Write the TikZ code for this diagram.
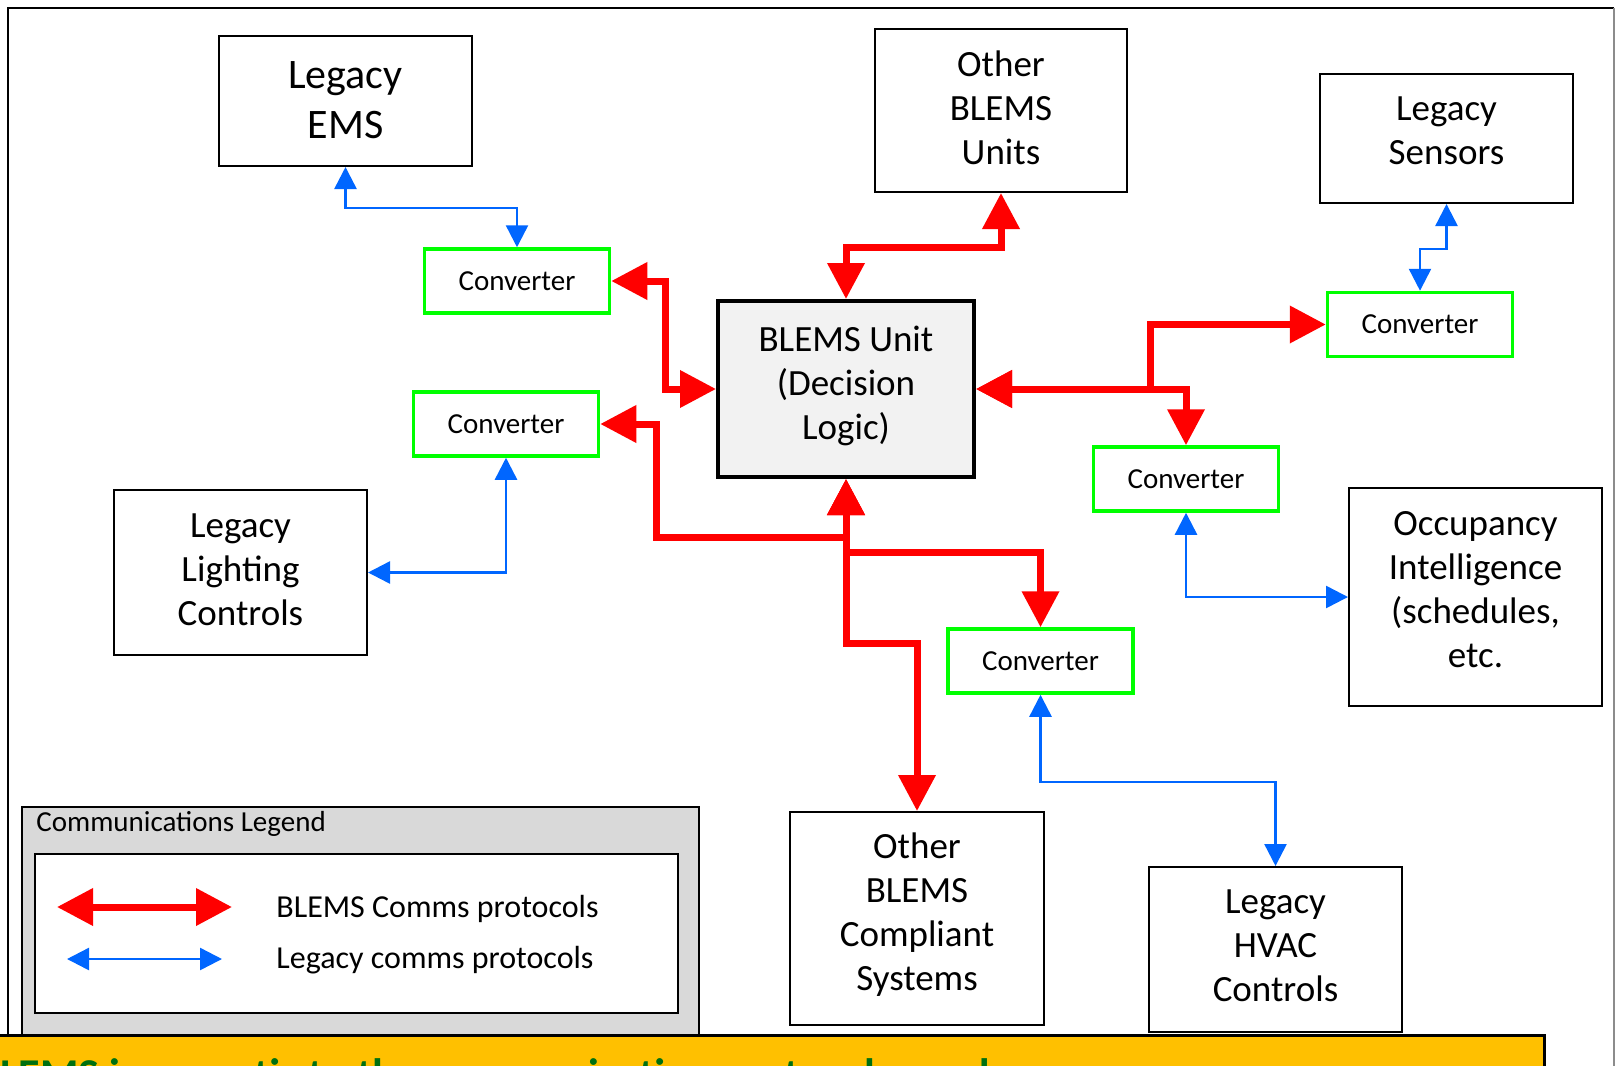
\documentclass[tikz,border=0pt]{standalone}
\usepackage{fontspec}
\setmainfont{Carlito}
\usetikzlibrary{arrows.meta}
\definecolor{blemsred}{RGB}{255,0,0}
\definecolor{legacyblue}{RGB}{0,102,255}
\definecolor{convgreen}{RGB}{0,255,0}
\definecolor{legendgray}{RGB}{217,217,217}
\definecolor{unitgray}{RGB}{242,242,242}
\definecolor{notegold}{RGB}{255,192,0}
\definecolor{notegreen}{RGB}{0,112,16}
\begin{document}
\begin{tikzpicture}[x=0.5pt,y=-0.5pt,
    box/.style={draw=black,line width=1pt,fill=white,inner sep=0pt},
    boxtext/.style={align=center,inner sep=0pt,font=\fontsize{18.5pt}{22pt}\selectfont},
    conv/.style={draw=convgreen,line width=1.75pt,fill=white,inner sep=0pt,
        minimum width=92.5pt,minimum height=32pt,font=\fontsize{14.5pt}{17pt}\selectfont},
    redlink/.style={draw=blemsred,line width=3.5pt,
        {Triangle[length=18pt,width=18pt]}-{Triangle[length=18pt,width=18pt]}},
    bluelink/.style={draw=legacyblue,line width=1.25pt,
        {Triangle[length=11pt,width=11pt]}-{Triangle[length=11pt,width=11pt]}}]
    \useasboundingbox (0,0) rectangle (1620,1065);
    \clip (0,0) rectangle (1620,1065);
    \draw[line width=1pt] (8,1100) -- (8,8) -- (1614,8);
    \draw[line width=0.75pt,black!45] (1614,8) -- (1614,1100);

    \node[box,minimum width=126.5pt,minimum height=65pt,
        label={[boxtext,yshift=0.5pt,font=\fontsize{21pt}{25pt}\selectfont]center:Legacy\\EMS}] (ems) at (345.5,101) {};
    \node[box,minimum width=126pt,minimum height=81.5pt,
        label={[boxtext,yshift=1.5pt]center:Other\\BLEMS\\Units}] (otherunits) at (1001,110.5) {};
    \node[box,minimum width=126.5pt,minimum height=64.5pt,
        label={[boxtext,yshift=4pt]center:Legacy\\Sensors}] (sensors) at (1446.5,138.5) {};
    \node[conv] (conv1) at (517,281) {Converter};
    \node[conv] (conv2) at (506,424) {Converter};
    \node[box,line width=2pt,fill=unitgray,minimum width=128pt,minimum height=88pt,
        label={[boxtext,yshift=1.5pt]center:BLEMS Unit\\(Decision\\Logic)}] (blems) at (846,389) {};
    \node[conv] (conv3) at (1420,324.5) {Converter};
    \node[conv] (conv4) at (1186,479) {Converter};
    \node[conv] (conv5) at (1040.5,661) {Converter};
    \node[box,minimum width=126.5pt,minimum height=82.5pt,
        label={[boxtext,yshift=1.5pt]center:Legacy\\Lighting\\Controls}] (lighting) at (240.5,572.5) {};
    \node[box,minimum width=126.5pt,minimum height=109pt,
        label={[boxtext,yshift=3.6pt]center:Occupancy\\Intelligence\\(schedules,\\etc.}] (occupancy) at (1475.5,597) {};
    \node[box,minimum width=127pt,minimum height=106.5pt,
        label={[boxtext,yshift=2pt]center:Other\\BLEMS\\Compliant\\Systems}] (compliant) at (917,918.5) {};
    \node[box,minimum width=126.5pt,minimum height=82.5pt,
        label={[boxtext,yshift=2pt]center:Legacy\\HVAC\\Controls}] (hvac) at (1275.5,949.5) {};

    \draw[redlink] (conv1.east) -- ++(54,0) |- (blems.west);
    \draw[redlink] (blems.north) -- ++(0,-52) -| (otherunits.south);
    \draw[redlink] (blems.east) -- ++(174,0) |- (conv3.west);
    \draw[redlink] (blems.east) -| (conv4.north);
    \draw[redlink] (blems.south) -- ++(0,58) -- ++(-190,0) |- (conv2.east);
    \draw[redlink] (blems.south) -- ++(0,164) -| (compliant.north);
    \draw[redlink] (blems.south) -- ++(0,73) -| (conv5.north);

    \draw[bluelink] (ems.south) -- ++(0,41) -| (conv1.north);
    \draw[bluelink] (conv2.south) |- (lighting.east);
    \draw[bluelink] (sensors.south) -- ++(0,45) -| (conv3.north);
    \draw[bluelink] (conv4.south) |- (occupancy.west);
    \draw[bluelink] (conv5.south) -- ++(0,87) -| (hvac.north);

    \node[draw=black,line width=0.75pt,fill=legendgray,anchor=north west,inner sep=0pt,
        minimum width=338.5pt,minimum height=120pt] (legend) at (21,806) {};
    \node[anchor=west,inner sep=0pt,font=\fontsize{14.5pt}{17pt}\selectfont] (legendtitle) at (36,824) {Communications Legend};
    \node[draw=black,line width=1pt,fill=white,anchor=north west,inner sep=0pt,
        minimum width=321.5pt,minimum height=79.5pt] (legendbox) at (34,853) {};
    \coordinate (redfrom) at (57,907);
    \coordinate (redto) at (232,907);
    \draw[redlink] (redfrom) -- (redto);
    \coordinate (bluefrom) at (67,959);
    \coordinate (blueto) at (222,959);
    \draw[bluelink] (bluefrom) -- (blueto);
    \node[anchor=west,inner sep=0pt,font=\fontsize{16pt}{19pt}\selectfont] (redkey) at (276,909) {BLEMS Comms protocols};
    \node[anchor=west,inner sep=0pt,font=\fontsize{16pt}{19pt}\selectfont] (bluekey) at (276,960) {Legacy comms protocols};

    \node[draw=black,line width=1.5pt,fill=notegold,anchor=north west,inner sep=0pt,
        minimum width=776.5pt,minimum height=40pt] (note) at (-10,1034) {};
    \node[anchor=base west,inner sep=0pt,text=notegreen,font=\fontsize{22pt}{26pt}\selectfont\bfseries] (notetext) at (-25,1089) {BLEMS is agnostic to the communication protocols used};
\end{tikzpicture}
\end{document}
